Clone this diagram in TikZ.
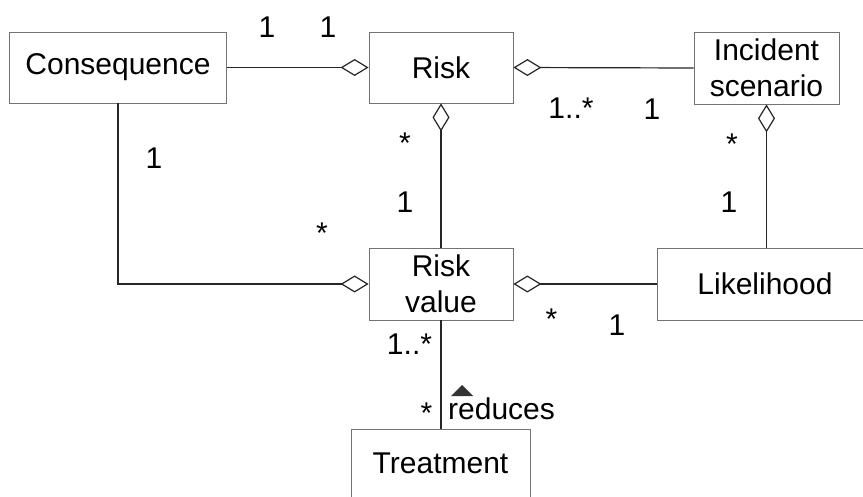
\documentclass[tikz,border=0pt]{standalone}
\usepackage{fontspec}
\setmainfont{Liberation Sans}
\usetikzlibrary{arrows.meta}

\tikzset{
  cls/.style={draw=black!55, line width=0.8pt, rectangle, inner sep=0pt,
    align=center, font=\fontsize{30}{36}\selectfont},
  mult/.style={inner sep=0pt, font=\fontsize{30}{36}\selectfont},
  assoc/.style={draw=black!85, line width=1.2pt},
  agg/.style={assoc, {Diamond[open, length=28pt, width=17pt, line width=1.2pt]}-},
}

\begin{document}
\begin{tikzpicture}[x=1pt, y=-1pt]
  \clip (0,0) rectangle (863,497);
  \fill[white] (0,0) rectangle (863,497);

  % classes
  \node[cls, minimum width=217pt, minimum height=71pt] (cons)  at (118,67.5) {Consequence};
  \node[cls, minimum width=144pt, minimum height=71pt] (risk)  at (441,67.5) {Risk};
  \node[cls, minimum width=145pt, minimum height=72pt] (inc)   at (766.5,68) {Incident\\scenario};
  \node[cls, minimum width=144pt, minimum height=72pt] (rv)    at (441,284) {Risk\\value};
  \node[cls, minimum width=216pt, minimum height=72pt] (lik)   at (765,284) {Likelihood};
  \node[cls, minimum width=179pt, minimum height=68pt] (treat) at (440.5,463) {Treatment};

  % associations (diamond at the aggregate end)
  \draw[agg] (risk.west) -- (cons.east);
  \draw[agg] (risk.east) -- (inc.west);
  \draw[agg] (risk.south) -- (rv.north);
  \draw[agg] (inc.south) -- (inc.south |- lik.north);
  \draw[agg] (rv.west) -- (cons.south |- rv.west) -- (cons.south);
  \draw[agg] (rv.east) -- (lik.west);
  \draw[assoc] (rv.south) -- (rv.south |- treat.north);

  % multiplicities
  \node[mult] (m1)  at (267,27)  {1};
  \node[mult] (m2)  at (328,27)  {1};
  \node[mult] (m3)  at (154,158) {1};
  \node[mult] (m4)  at (405,143) {*};
  \node[mult] (m5)  at (405,202) {1};
  \node[mult] (m6)  at (322,233) {*};
  \node[mult] (m7)  at (571,108) {1..*};
  \node[mult] (m8)  at (652,109) {1};
  \node[mult] (m9)  at (732,144) {*};
  \node[mult] (m10) at (729,202) {1};
  \node[mult] (m11) at (551.5,319) {*};
  \node[mult] (m12) at (617,325) {1};
  \node[mult] (m13) at (409.5,344) {1..*};
  \node[mult] (m14) at (426.5,413) {*};

  % association name with reading direction
  \node[mult, anchor=base west] (red) at (448,419) {reduces};
  \fill[black!80] (451,396) -- (473,396) -- (462,385) -- cycle;
\end{tikzpicture}
\end{document}
